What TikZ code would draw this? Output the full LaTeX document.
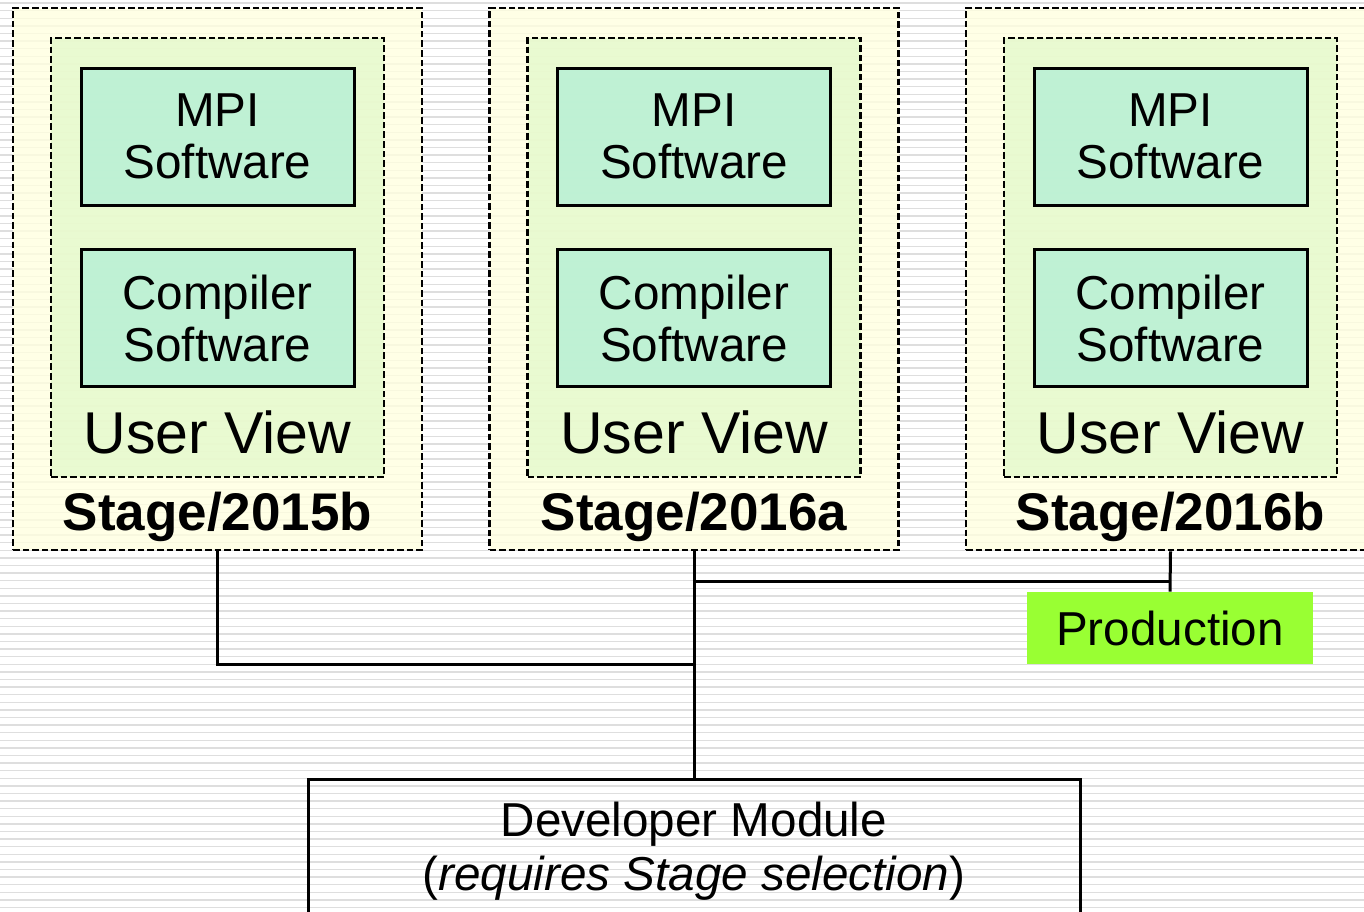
\documentclass[tikz,border=0pt]{standalone}
\usepackage{fontspec}
\setmainfont{Liberation Sans}
\usetikzlibrary{positioning}

\definecolor{cStageFill}{HTML}{FFFFE0}
\definecolor{cViewFill}{HTML}{E4F9CC}
\definecolor{cSoftFill}{HTML}{B4F0D6}
\definecolor{cProdFill}{HTML}{99FF33}
\definecolor{cStripe}{HTML}{DEDEDE}

\tikzset{
  stripe/.style={cStripe,line width=0.7pt},
  stagebox/.style={draw,line width=1.4pt,dash pattern=on 3.3pt off 1.5pt,
    fill=cStageFill,fill opacity=0.8,text opacity=1,
    minimum width=204.5pt,minimum height=271pt,inner sep=0pt},
  viewbox/.style={draw,line width=1.4pt,dash pattern=on 3.3pt off 1.5pt,
    fill=cViewFill,fill opacity=0.8,text opacity=1,
    minimum width=166.5pt,minimum height=219.5pt,inner sep=0pt},
  softbox/.style={draw,line width=1.5pt,fill=cSoftFill,fill opacity=0.8,
    text opacity=1,minimum width=136.5pt,minimum height=68.5pt,inner sep=0pt,
    align=center,font=\fontsize{23.8}{26}\selectfont},
  prodbox/.style={fill=cProdFill,minimum width=143pt,minimum height=36pt,
    inner sep=0pt,font=\fontsize{23.8}{26}\selectfont},
  devbox/.style={draw,line width=1.5pt,minimum width=386pt,minimum height=72pt,
    inner sep=0pt,align=center,font=\fontsize{23.8}{27}\selectfont},
  link/.style={line width=1.5pt}
}

\begin{document}
\begin{tikzpicture}[x=0.5pt,y=-0.5pt]
\useasboundingbox (0,0) rectangle (1364,911);

%背景的橫條紋
\foreach \y in {3,10.6,...,911}
  \draw[stripe] (0,\y) -- (1364,\y);

%三個 Stage
\foreach \c/\n/\t in
{217.5/A/2015b,
    694/B/2016a,
    1170.5/C/2016b}
{
    \node[stagebox] (stage\n) at (\c,279) {};
    \node[viewbox] (view\n) at (\c,257.5) {};
    \node[softbox] (mpi\n) at (\c,136.5) {MPI\\Software};
    \node[softbox] (comp\n) at (\c,318) {Compiler\\Software};
    \node[anchor=base,inner sep=0pt,font=\fontsize{29.5}{31}\selectfont]
      (viewlbl\n) at (\c,453) {User View};
    \node[anchor=base,inner sep=0pt,font=\fontsize{26.5}{28}\selectfont\bfseries]
      (stagelbl\n) at (\c,530) {Stage/\t};
};

\node[prodbox] (prod) at (1170,628) {Production};
\node[devbox,anchor=north] (dev) at (694,778)
  {Developer Module\\(\textit{requires Stage selection})};

%連接線
\coordinate (cJoinA) at (694,664);
\coordinate (cJoinB) at (694,581);
\coordinate (cJoinC) at (1170.5,581);

\draw[link] (stageA.south) |- (cJoinA);
\draw[link] (stageB.south) -- (dev.north);
\draw[link] (cJoinB) -- (cJoinC);
\draw[link] (stageC.south) -- (prod.north);

\end{tikzpicture}
\end{document}
